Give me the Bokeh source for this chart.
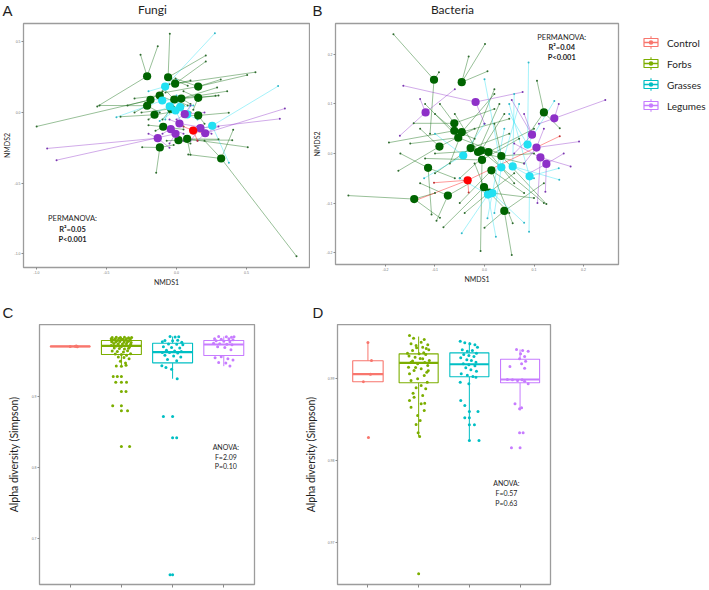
import math
from bokeh.plotting import figure
from bokeh.models import Range1d, FixedTicker, PrintfTickFormatter
from bokeh.layouts import row, column
from bokeh.embed import file_html
from bokeh.resources import INLINE
from bokeh.core.properties import value

FONT = "Lato"
TICKFONT = "Liberation Sans"
LETTERFONT = "Liberation Sans"

groups = ["Control", "Forbs", "Grasses", "Legumes"]
nmds_colors = ["#FF0000", "#006400", "#22E0F2", "#8E30C8"]
dot_colors = ["#C03030", "#2E6B2E", "#30B8C8", "#7A38B0"]
box_colors = ["#F8766D", "#7CAE00", "#00BFC4", "#C77CFF"]

panel_letters = ["A", "B", "C", "D"]
panel_titles = ["Fungi", "Bacteria"]
permanova_A = ["PERMANOVA:", "R²=0.05", "P<0.001"]
permanova_B = ["PERMANOVA:", "R²=0.04", "P<0.001"]
anova_C = ["ANOVA:", "F=2.09", "P=0.10"]
anova_D = ["ANOVA:", "F=0.57", "P=0.63"]

# ---------------- Panel A (Fungi NMDS) ----------------
A_xticks = [-1.0, -0.5, 0.0, 0.5]
A_yticks = [-1.0, -0.5, 0.0, 0.5]
A_control_cx = [0.119]
A_control_cy = [-0.128]
A_control_spokes = [[(0.2, -0.15), (0.05, -0.1), (0.15, -0.2), (0.1, -0.12)]]
A_forbs_cx = [-0.21, -0.06, -0.01, 0.155, -0.12, -0.186, -0.21, -0.016, 0.034, 0.155,
              -0.038, -0.157, 0.155, -0.095, 0.014, 0.076, -0.119, 0.319]
A_forbs_cy = [0.257, 0.25, 0.204, 0.184, 0.12, 0.09, 0.048, 0.092, 0.099, 0.104,
              0.026, -0.016, -0.021, -0.101, -0.196, -0.187, -0.248, -0.326]
A_forbs_spokes = [
    [(-0.257, 0.409), (-0.134, 0.47), (-0.566, 0.043)],
    [(-0.048, 0.558), (0.209, 0.404), (0.08, 0.19)],
    [(0.564, 0.286), (0.209, 0.362), (0.1, 0.227)],
    [(0.505, 0.265), (0.316, 0.234), (-0.007, 0.241), (-0.079, 0.142)],
    [(-0.3, 0.1), (0.05, 0.05), (-0.05, 0.2)],
    [(-0.999, -0.099), (-0.35, 0.05), (-0.1, 0.15)],
    [(-0.55, 0.05), (-0.3, 0.0), (-0.12, 0.0)],
    [(0.362, 0.151), (0.08, 0.05), (-0.1, 0.18)],
    [(0.29, 0.177), (0.279, 0.118), (0.1, 0.06)],
    [(0.3, 0.12), (0.05, 0.15), (0.12, 0.02)],
    [(-0.25, 0.0), (0.1, 0.0), (-0.1, -0.05)],
    [(-0.4, -0.03), (-0.2, -0.05), (-0.05, 0.0)],
    [(0.373, -0.002), (0.05, -0.02), (0.2, -0.08)],
    [(-0.2, -0.09), (0.05, -0.12), (-0.15, -0.13)],
    [(0.398, -0.196), (-0.07, -0.2), (0.1, -0.22)],
    [(0.509, -0.246), (0.1, -0.3), (0.3, -0.19)],
    [(-0.145, -0.428), (-0.245, -0.246), (-0.02, -0.23)],
    [(0.857, -1.019), (0.405, -0.123), (0.2, -0.2), (0.084, -0.298)],
]
A_grasses_cx = [-0.081, -0.102, -0.048, 0.026, 0.076, 0.255, -0.007]
A_grasses_cy = [0.184, 0.085, 0.043, 0.038, -0.014, -0.094, 0.014]
A_grasses_spokes = [
    [(0.274, 0.562), (-0.2, 0.15), (0.0, 0.23)],
    [(-0.429, -0.033), (-0.2, 0.1), (0.05, 0.1)],
    [(-0.15, 0.0), (0.02, 0.08), (-0.08, -0.05)],
    [(0.12, 0.05), (0.0, 0.12), (0.08, -0.03)],
    [(0.15, -0.05), (-0.05, 0.05), (0.1, 0.05)],
    [(0.726, 0.187), (0.374, -0.357), (0.15, -0.12)],
    [(-0.12, -0.06), (0.05, -0.1)],
]
A_legumes_cx = [0.059, 0.021, -0.041, -0.007, 0.171, 0.205, -0.134]
A_legumes_cy = [-0.012, -0.078, -0.118, -0.151, -0.111, -0.147, -0.182]
A_legumes_spokes = [
    [(0.2, 0.0), (0.0, -0.05), (0.1, 0.05)],
    [(0.15, -0.1), (-0.05, -0.05)],
    [(-0.1, -0.15), (0.05, -0.15)],
    [(-0.857, -0.338), (0.05, -0.2), (-0.05, -0.22)],
    [(0.738, -0.045), (0.25, -0.15), (0.1, -0.2)],
    [(0.774, 0.028), (0.3, -0.1), (0.15, -0.2)],
    [(-0.924, -0.255), (-0.2, -0.15), (-0.05, -0.25)],
]

# ---------------- Panel B (Bacteria NMDS) ----------------
B_xticks = [-0.2, -0.1, 0.0, 0.1, 0.2]
B_yticks = [-0.2, -0.1, 0.0, 0.1, 0.2]
B_control_cx = [-0.034]
B_control_cy = [-0.054]
B_control_spokes = [[(0.152, 0.035), (-0.145, -0.097), (-0.102, -0.059), (-0.032, -0.079)]]
B_forbs_cx = [-0.102, -0.046, 0.12, -0.061, -0.061, -0.046, -0.053, -0.091, -0.028, -0.013,
              0.008, -0.007, -0.005, 0.034, 0.014, -0.114, -0.001, -0.074, -0.142, 0.04, 0.009]
B_forbs_cy = [0.149, 0.144, 0.083, 0.061, 0.046, 0.043, 0.032, 0.014, 0.011, 0.003,
              0.003, 0.006, -0.013, -0.005, -0.034, -0.029, -0.068, -0.085, -0.092, -0.116, -0.079]
B_forbs_spokes = [
    [(-0.184, 0.241), (-0.092, 0.164), (-0.11, 0.04)],
    [(0.001, 0.221), (-0.032, 0.196), (0.006, 0.166)],
    [(0.106, 0.147), (0.152, 0.051), (0.09, 0.04)],
    [(-0.143, 0.061), (0.02, 0.09), (-0.09, 0.1)],
    [(-0.193, 0.022), (-0.02, 0.03), (-0.1, 0.08)],
    [(0.05, 0.07), (-0.07, -0.02), (0.02, 0.12)],
    [(-0.12, 0.1), (0.03, 0.0), (-0.15, 0.02)],
    [(-0.174, -0.035), (-0.13, 0.05), (-0.02, 0.05)],
    [(0.05, 0.04), (-0.1, -0.04), (0.02, 0.13)],
    [(0.08, -0.02), (-0.06, 0.08), (0.03, 0.1)],
    [(0.1, 0.05), (-0.05, -0.05), (0.06, -0.06)],
    [(-0.1, 0.0), (0.04, 0.08), (0.12, -0.1)],
    [(-0.008, -0.197), (0.07, 0.03), (-0.12, -0.01)],
    [(0.125, -0.102), (0.1, 0.0), (0.02, 0.06)],
    [(0.057, -0.141), (0.08, -0.08), (-0.05, -0.1)],
    [(-0.107, -0.123), (-0.17, 0.0), (-0.06, -0.05)],
    [(-0.083, -0.149), (0.05, -0.12), (-0.02, -0.02)],
    [(-0.097, -0.136), (-0.03, -0.06), (-0.13, -0.06)],
    [(-0.275, -0.085), (-0.09, -0.13), (-0.1, -0.08)],
    [(0.055, -0.205), (0.12, -0.06), (0.0, -0.15)],
    [(0.06, -0.04), (-0.04, -0.12), (0.1, -0.09)],
]
B_grasses_cx = [-0.043, 0.087, 0.034, 0.057, 0.091, 0.007, 0.016]
B_grasses_cy = [-0.004, 0.018, -0.028, -0.026, -0.046, -0.083, -0.08]
B_grasses_spokes = [
    [(-0.122, -0.05), (-0.1, 0.04), (0.0, 0.06)],
    [(0.089, 0.184), (0.141, 0.106), (0.05, 0.08)],
    [(0.0, 0.15), (0.07, 0.1), (0.02, -0.12)],
    [(0.151, -0.053), (0.06, 0.12), (0.1, -0.05)],
    [(0.09, -0.158), (0.15, -0.03), (0.05, 0.1)],
    [(0.023, -0.168), (-0.046, -0.161), (-0.05, -0.05)],
    [(0.006, -0.131), (0.04, 0.05), (0.08, -0.14)],
]
B_legumes_cx = [-0.119, -0.018, 0.141, 0.096, 0.105, 0.113, 0.125]
B_legumes_cy = [0.083, 0.104, 0.071, 0.038, 0.012, -0.008, -0.021]
B_legumes_spokes = [
    [(-0.171, 0.036), (-0.13, 0.11), (-0.06, 0.13)],
    [(-0.164, 0.137), (0.077, 0.124), (0.0, 0.06)],
    [(0.244, 0.108), (0.11, 0.06), (0.15, 0.1)],
    [(0.055, 0.108), (0.08, 0.08), (0.06, 0.0)],
    [(0.191, 0.024), (0.08, -0.02), (0.12, 0.05)],
    [(0.174, -0.026), (0.107, -0.1), (0.06, 0.02)],
    [(0.123, -0.077), (0.16, 0.0), (0.09, -0.04)],
]

# ---------------- Panel C (Fungi alpha diversity) ----------------
C_yticks = [0.7, 0.8, 0.9]
C_q1 = [0.9702, 0.9592, 0.9474, 0.9577]
C_med = [0.9705, 0.9714, 0.9624, 0.9732]
C_q3 = [0.9708, 0.9789, 0.9750, 0.9789]
C_lo = [0.9700, 0.9423, 0.9250, 0.9427]
C_hi = [0.9712, 0.9835, 0.9845, 0.9845]
C_width = [0.78, 0.78, 0.78, 0.78]
C_control_pts = [(0.10, 0.9706), (0.12, 0.9712), (0.14, 0.9700), (0.0, 0.9705)]
C_forbs_pts = [
    (-0.18, 0.9832), (-0.1, 0.9835), (-0.02, 0.9830), (0.06, 0.9833), (0.14, 0.9828), (0.2, 0.9831),
    (-0.2, 0.9815), (-0.12, 0.9812), (-0.05, 0.9818), (0.03, 0.9808), (0.1, 0.9815), (0.17, 0.9805),
    (-0.16, 0.9795), (-0.08, 0.9790), (0.0, 0.9798), (0.08, 0.9792), (0.15, 0.9786),
    (-0.19, 0.9772), (-0.11, 0.9768), (-0.03, 0.9775), (0.05, 0.9764), (0.12, 0.9770), (0.19, 0.9760),
    (-0.15, 0.9748), (-0.06, 0.9742), (0.02, 0.9738), (0.1, 0.9745), (0.18, 0.9735),
    (-0.2, 0.9718), (-0.1, 0.9712), (0.0, 0.9705), (0.08, 0.9715), (0.16, 0.9702),
    (-0.14, 0.9682), (-0.04, 0.9675), (0.06, 0.9668), (0.14, 0.9679),
    (-0.18, 0.9640), (-0.08, 0.9632), (0.04, 0.9625), (0.12, 0.9645),
    (-0.12, 0.9598), (0.0, 0.9590), (0.1, 0.9582), (0.18, 0.9601),
    (-0.06, 0.9555), (0.05, 0.9548), (0.15, 0.9530),
    (-0.02, 0.9495), (0.08, 0.9470),
    (-0.1, 0.9430), (0.0, 0.9425), (0.09, 0.9440),
    (-0.16, 0.928), (-0.08, 0.928), (0.0, 0.928), (-0.11, 0.920), (0.0, 0.920), (0.1, 0.920),
    (0.0, 0.907), (0.09, 0.907), (-0.17, 0.887), (0.0, 0.887), (0.0, 0.880), (0.12, 0.880),
    (0.0, 0.8296), (0.16, 0.8296),
]
C_grasses_pts = [
    (-0.05, 0.9845), (0.05, 0.9838), (0.12, 0.9842), (-0.15, 0.9790), (0.0, 0.9785), (0.1, 0.9792),
    (-0.2, 0.9772), (0.18, 0.9765), (-0.08, 0.9740), (0.08, 0.9735), (0.2, 0.9728), (-0.18, 0.9700),
    (-0.02, 0.9690), (0.14, 0.9682), (-0.12, 0.9650), (0.04, 0.9640), (0.17, 0.9635), (-0.2, 0.9620),
    (-0.06, 0.9618), (0.1, 0.9612), (-0.15, 0.9580), (0.02, 0.9570), (0.16, 0.9555), (-0.1, 0.9520),
    (0.08, 0.9505), (-0.21, 0.9432), (-0.13, 0.9409), (-0.02, 0.9385), (0.09, 0.9250),
    (-0.18, 0.8718), (0.0, 0.8718), (0.0, 0.8418), (0.08, 0.8418), (-0.05, 0.649), (0.0, 0.649),
]
C_legumes_pts = [
    (-0.1, 0.9845), (0.05, 0.9840), (0.15, 0.9835), (0.2, 0.9843), (-0.18, 0.9815), (-0.05, 0.9808),
    (0.1, 0.9812), (0.18, 0.9800), (-0.15, 0.9785), (0.0, 0.9778), (0.12, 0.9770), (-0.2, 0.9750),
    (-0.08, 0.9742), (0.06, 0.9735), (0.16, 0.9728), (-0.12, 0.9700), (0.02, 0.9690), (0.14, 0.9660),
    (-0.17, 0.9545), (-0.05, 0.9560), (0.08, 0.9530), (0.18, 0.9515), (-0.1, 0.9480), (0.04, 0.9470),
    (0.12, 0.9430),
]

# ---------------- Panel D (Bacteria alpha diversity) ----------------
D_yticks = [0.97, 0.98, 0.99]
D_q1 = [0.98960, 0.98948, 0.99021, 0.98948]
D_med = [0.99053, 0.99191, 0.99174, 0.98988]
D_q3 = [0.99216, 0.99301, 0.99313, 0.99236]
D_lo = [0.98960, 0.98296, 0.98244, 0.98610]
D_hi = [0.99439, 0.99512, 0.99443, 0.99354]
D_width = [0.6, 0.77, 0.77, 0.77]
D_control_pts = [(0.0, 0.99439), (0.07, 0.99220), (0.05, 0.99053), (-0.09, 0.98960), (0.01, 0.98280)]
D_forbs_pts = [
    (-0.18, 0.995244), (0.11, 0.994756), (0.05, 0.994431), (-0.15, 0.994228), (-0.05, 0.994024),
    (0.08, 0.993821), (0.18, 0.994106), (0.2, 0.993496), (-0.12, 0.993415), (-0.22, 0.993089),
    (0.01, 0.993008), (0.14, 0.992927), (-0.07, 0.992602), (0.08, 0.992398), (0.21, 0.992195),
    (-0.15, 0.991992), (-0.02, 0.991789), (0.18, 0.991585), (-0.2, 0.991382), (0.05, 0.991179),
    (-0.09, 0.990976), (0.16, 0.990772), (-0.18, 0.990569), (0.11, 0.990366), (-0.02, 0.989959),
    (-0.15, 0.989756), (0.05, 0.989146), (-0.05, 0.988862), (0.14, 0.988740), (-0.09, 0.987724),
    (0.08, 0.987927), (-0.18, 0.987317), (0.05, 0.986911), (-0.15, 0.986504), (0.11, 0.986098),
    (-0.02, 0.985488), (0.03, 0.984878), (-0.05, 0.984390), (-0.01, 0.983374), (0.02, 0.982927),
    (0.0, 0.966179),
    (-0.1, 0.994900), (0.15, 0.993650), (-0.19, 0.992750), (0.12, 0.991950), (-0.12, 0.992150),
    (0.03, 0.992450), (0.19, 0.990950), (-0.06, 0.991350), (0.1, 0.993150), (-0.04, 0.993750),
    (0.17, 0.989550), (-0.11, 0.988200), (0.12, 0.987000),
]
D_grasses_pts = [
    (-0.18, 0.994553), (-0.09, 0.994350), (0.01, 0.994228), (0.11, 0.994106), (0.16, 0.993821),
    (-0.14, 0.993496), (-0.04, 0.993333), (0.06, 0.993415), (0.14, 0.993089), (-0.11, 0.992927),
    (-0.01, 0.992805), (0.09, 0.992683), (-0.17, 0.992520), (-0.05, 0.992276), (0.04, 0.992195),
    (0.13, 0.991992), (-0.12, 0.991789), (-0.01, 0.991667), (0.11, 0.991545), (-0.07, 0.991301),
    (0.03, 0.991057), (0.14, 0.990894), (-0.16, 0.990569), (-0.04, 0.990407), (0.07, 0.990244),
    (-0.18, 0.989553), (-0.01, 0.989350), (0.13, 0.990163), (-0.17, 0.987317), (-0.09, 0.986707),
    (0.0, 0.985976), (0.17, 0.985976), (-0.09, 0.985203), (0.0, 0.985203), (0.0, 0.984350),
    (0.1, 0.984350), (0.0, 0.982439), (0.19, 0.982439),
]
D_legumes_pts = [
    (-0.07, 0.993537), (0.05, 0.993415), (0.16, 0.993333), (0.01, 0.993008), (0.09, 0.992683),
    (-0.01, 0.992398), (0.11, 0.992114), (0.03, 0.991789), (-0.2, 0.991463), (0.09, 0.991260),
    (-0.25, 0.989878), (-0.15, 0.989837), (-0.05, 0.989756), (0.04, 0.989837), (0.09, 0.989675),
    (0.16, 0.989350), (-0.1, 0.986911), (-0.01, 0.986301), (0.03, 0.986423), (-0.01, 0.983374),
    (0.06, 0.983374), (-0.17, 0.981545), (0.0, 0.981545),
]


def base_fig(xr, yr, bl, bt, br, bb, fw, fh):
    p = figure(x_range=Range1d(*xr), y_range=Range1d(*yr),
               frame_width=fw, frame_height=fh,
               min_border_left=bl, min_border_top=bt,
               min_border_right=br, min_border_bottom=bb,
               toolbar_location=None, output_backend="svg",
               background_fill_color="white", border_fill_color="white")
    p.grid.visible = False
    p.outline_line_color = "#9C9C9C"
    p.outline_line_width = 1.3
    for ax in p.axis:
        ax.axis_line_color = None
        ax.major_tick_line_color = "#8A8A8A"
        ax.major_tick_out = 2
        ax.major_tick_in = 0
        ax.minor_tick_line_color = None
        ax.major_label_text_font = TICKFONT
        ax.major_label_text_font_size = "3.5px"
        ax.major_label_text_color = "#777777"
        ax.major_label_standoff = 1
        ax.axis_label_text_font = FONT
        ax.axis_label_text_font_style = "normal"
        ax.axis_label_text_color = "#1E1E1E"
    return p


def in_frame_text(p, xs, ys, texts, size, styles, align="center"):
    # statistics annotation placed in the panel's data coordinates
    for x, y, t, st in zip(xs, ys, texts, styles):
        p.text(x=[x], y=[y], text=[t], text_font=value(FONT), text_font_size=f"{size}px",
               text_align=align, text_baseline="middle", text_font_style=st,
               text_color="#1E1E1E")


def draw_nmds(p, sets):
    ends = []
    for cx, cy, spokes, ci in sets:
        x0, y0, x1, y1 = [], [], [], []
        for i, pts in enumerate(spokes):
            for (sx, sy) in pts:
                x0.append(cx[i]); y0.append(cy[i]); x1.append(sx); y1.append(sy)
        p.segment(x0=x0, y0=y0, x1=x1, y1=y1, line_color=nmds_colors[ci],
                  line_alpha=0.45, line_width=0.9)
        ends.append((x1, y1, ci))
    for x1, y1, ci in ends:
        p.scatter(x1, y1, size=2.0, color=dot_colors[ci], line_color=None)
    for cx, cy, spokes, ci in sets:
        p.scatter(cx, cy, size=8.2, color=nmds_colors[ci], line_color=None)


def draw_box(p, q1, med, q3, lo, hi, width, pts_sets):
    xs = [i + 1 for i in range(len(groups))]
    left = [x - w / 2 for x, w in zip(xs, width)]
    right = [x + w / 2 for x, w in zip(xs, width)]
    p.segment(x0=xs, y0=q3, x1=xs, y1=hi, line_color=box_colors, line_width=1.0)
    p.segment(x0=xs, y0=lo, x1=xs, y1=q1, line_color=box_colors, line_width=1.0)
    p.quad(left=left, right=right, bottom=q1, top=q3, fill_color="white",
           line_color=box_colors, line_width=1.1)
    p.segment(x0=left, y0=med, x1=right, y1=med, line_color=box_colors, line_width=2.2)
    for gi, pts in enumerate(pts_sets):
        p.scatter([xs[gi] + dx for dx, _ in pts], [y for _, y in pts], size=3.0,
                  color=box_colors[gi], line_color=None)


def header(width, height, items):
    # items: (x_px, y_px, text, font, size, align)
    h = figure(x_range=Range1d(0, width), y_range=Range1d(height, 0),
               frame_width=width, frame_height=height, min_border=0,
               toolbar_location=None, output_backend="svg",
               background_fill_color="white", border_fill_color="white")
    h.axis.visible = False
    h.grid.visible = False
    h.outline_line_color = None
    for x, y, t, f, s, a in items:
        h.text(x=[x], y=[y], text=[t], text_font=value(f), text_font_size=f"{s}px",
               text_align=a, text_baseline="middle", text_color="#1E1E1E")
    return h


# ---------- Header row 1 ----------
hdr1 = header(709, 22, [
    (2, 10, panel_letters[0], LETTERFONT, 15, "left"),
    (152, 9, panel_titles[0], FONT, 12, "center"),
    (312, 10, panel_letters[1], LETTERFONT, 15, "left"),
    (452, 9, panel_titles[1], FONT, 12, "center"),
])

# ---------- Figure A ----------
pA = base_fig((-1.093, 0.95), (-1.099, 0.631), 18, 1, 1, 31, 286, 244)
pA.xaxis.ticker = FixedTicker(ticks=A_xticks)
pA.yaxis.ticker = FixedTicker(ticks=A_yticks)
pA.axis.formatter = PrintfTickFormatter(format="%.1f")
pA.xaxis.axis_label = "NMDS1"
pA.yaxis.axis_label = "NMDS2"
pA.axis.axis_label_text_font_size = "7px"
pA.xaxis.axis_label_standoff = 1
pA.yaxis.axis_label_standoff = 0
draw_nmds(pA, [
    (A_forbs_cx, A_forbs_cy, A_forbs_spokes, 1),
    (A_grasses_cx, A_grasses_cy, A_grasses_spokes, 2),
    (A_legumes_cx, A_legumes_cy, A_legumes_spokes, 3),
    (A_control_cx, A_control_cy, A_control_spokes, 0),
])
in_frame_text(pA, [-0.743] * 3, [-0.752, -0.830, -0.901], permanova_A, 7.5,
              ["normal", "bold", "bold"])

# ---------- Figure B ----------
pB = base_fig((-0.301, 0.2707), (-0.2242, 0.2626), 23, 0, 9, 35, 283, 241)
pB.xaxis.ticker = FixedTicker(ticks=B_xticks)
pB.yaxis.ticker = FixedTicker(ticks=B_yticks)
pB.axis.formatter = PrintfTickFormatter(format="%.1f")
pB.xaxis.axis_label = "NMDS1"
pB.yaxis.axis_label = "NMDS2"
pB.axis.axis_label_text_font_size = "7px"
pB.xaxis.axis_label_standoff = 1
pB.yaxis.axis_label_standoff = 2
draw_nmds(pB, [
    (B_forbs_cx, B_forbs_cy, B_forbs_spokes, 1),
    (B_grasses_cx, B_grasses_cy, B_grasses_spokes, 2),
    (B_legumes_cx, B_legumes_cy, B_legumes_spokes, 3),
    (B_control_cx, B_control_cy, B_control_spokes, 0),
])
in_frame_text(pB, [0.156] * 3, [0.234, 0.214, 0.194], permanova_B, 7.5,
              ["normal", "bold", "bold"])

# ---------- Legend ----------
leg_idx = [0, 1, 2, 3]
leg = figure(x_range=Range1d(-23.5, 65.5), y_range=Range1d(12.238, -0.905),
             frame_width=89, frame_height=276, min_border=0,
             toolbar_location=None, output_backend="svg",
             background_fill_color="white", border_fill_color="white")
leg.axis.visible = False
leg.grid.visible = False
leg.outline_line_color = None
leg.segment(x0=[0] * 4, y0=[i - 0.3 for i in leg_idx], x1=[0] * 4, y1=[i + 0.3 for i in leg_idx],
            line_color=box_colors, line_width=1.1)
leg.quad(left=[-7] * 4, right=[7] * 4, bottom=[i + 0.19 for i in leg_idx],
         top=[i - 0.19 for i in leg_idx], fill_color="white", line_color=box_colors,
         line_width=1.2)
leg.segment(x0=[-7] * 4, y0=leg_idx, x1=[7] * 4, y1=leg_idx, line_color=box_colors,
            line_width=1.4)
leg.scatter([0] * 4, leg_idx, size=4.5, color=box_colors, line_color=None)
leg.text(x=[16.0] * 4, y=leg_idx, text=groups, text_font=value(FONT),
         text_font_size="10px", text_baseline="middle", text_align="left",
         text_color="#1E1E1E")

# ---------- Header row 2 ----------
hdr2 = header(709, 26, [
    (2, 14, panel_letters[2], LETTERFONT, 15, "left"),
    (312, 14, panel_letters[3], LETTERFONT, 15, "left"),
])

# ---------- Figure C ----------
pC = base_fig((0.4, 4.6), (0.6352, 1.0014), 39, 0, 46, 5, 215, 260)
pC.xaxis.ticker = FixedTicker(ticks=[1, 2, 3, 4])
pC.yaxis.ticker = FixedTicker(ticks=C_yticks)
pC.yaxis.formatter = PrintfTickFormatter(format="%.1f")
pC.xaxis.major_label_text_color = None
pC.xaxis.major_label_text_font_size = "1px"
pC.xaxis.major_label_standoff = 0
pC.xaxis.major_tick_out = 3
pC.yaxis.axis_label = "Alpha diversity (Simpson)"
pC.yaxis.axis_label_text_font_size = "10.5px"
pC.yaxis.axis_label_standoff = 9
draw_box(pC, C_q1, C_med, C_q3, C_lo, C_hi, C_width,
         [C_control_pts, C_forbs_pts, C_grasses_pts, C_legumes_pts])
in_frame_text(pC, [4.04] * 3, [0.8282, 0.8141, 0.8014], anova_C, 7, ["normal"] * 3)

# ---------- Figure D ----------
pD = base_fig((0.4, 4.6), (0.96488, 0.99659), 37, 0, 159, 5, 213, 260)
pD.xaxis.ticker = FixedTicker(ticks=[1, 2, 3, 4])
pD.yaxis.ticker = FixedTicker(ticks=D_yticks)
pD.yaxis.formatter = PrintfTickFormatter(format="%.2f")
pD.xaxis.major_label_text_color = None
pD.xaxis.major_label_text_font_size = "1px"
pD.xaxis.major_label_standoff = 0
pD.xaxis.major_tick_out = 3
pD.yaxis.axis_label = "Alpha diversity (Simpson)"
pD.yaxis.axis_label_text_font_size = "10.5px"
pD.yaxis.axis_label_standoff = 8
draw_box(pD, D_q1, D_med, D_q3, D_lo, D_hi, D_width,
         [D_control_pts, D_forbs_pts, D_grasses_pts, D_legumes_pts])
in_frame_text(pD, [3.73] * 3, [0.97720, 0.97598, 0.97488], anova_D, 7, ["normal"] * 3)

layout = column(hdr1, row(pA, pB, leg), hdr2, row(pC, pD))
open("out.html", "w").write(file_html(layout, INLINE))
